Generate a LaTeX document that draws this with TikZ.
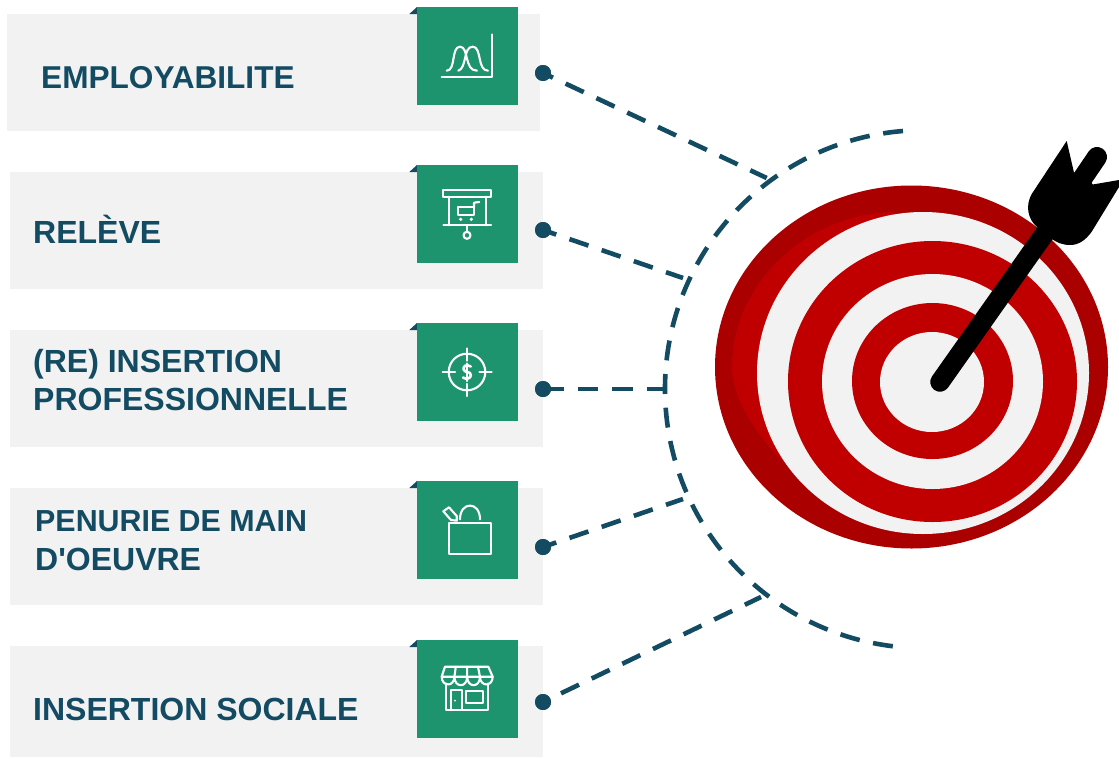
\documentclass[tikz,border=0pt]{standalone}
\usepackage{fontspec}
\setmainfont{Liberation Sans}
\definecolor{navy}{RGB}{19,75,99}
\definecolor{panel}{RGB}{242,242,242}
\definecolor{teal}{RGB}{29,148,110}
\definecolor{darkred}{RGB}{170,0,0}
\definecolor{brightred}{RGB}{192,0,0}
\tikzset{
  panelbox/.style={fill=panel,draw=none},
  iconbox/.style={fill=teal,draw=none},
  cornertri/.style={fill=navy,draw=none},
  label/.style={anchor=base west,inner sep=0pt,text=navy,font=\bfseries\fontsize{32}{38.5}\selectfont,align=left},
  dotnode/.style={circle,fill=navy,minimum size=16pt,inner sep=0pt,draw=none},
  dashline/.style={draw=navy,line width=4.6pt},
  icon/.style={draw=white,line width=2.1pt,line join=round,line cap=round},
}
\begin{document}
\begin{tikzpicture}[x=1pt,y=1pt,yscale=-1]
\useasboundingbox (0,0) rectangle (1119,758);
\fill[white] (0,0) rectangle (1119,758);
% panels
\fill[panelbox] (7,14) rectangle (540,131);
\fill[panelbox] (10,172) rectangle (543,289);
\fill[panelbox] (10,330) rectangle (543,447);
\fill[panelbox] (10,488) rectangle (543,605);
\fill[panelbox] (10,646) rectangle (543,757);
% corner triangles and icon squares
\foreach \yy in {7,165,323,481,640}{
  \fill[cornertri] (409.3,\yy+7) -- (417,\yy) -- (417,\yy+7) -- cycle;
  \fill[iconbox] (417,\yy) rectangle (518,\yy+98);
}
% labels
\node[label,font=\bfseries\fontsize{31.6}{38.5}\selectfont] (t1) at (41,88.5) {EMPLOYABILITE};
\node[label] (t2) at (33,243.5) {RELÈVE};
\node[label,anchor=west] (t3) at (33,380) {(RE) INSERTION\\PROFESSIONNELLE};
\node[label,anchor=west] (t4) at (35,540.5) {{\fontsize{30.4}{38.5}\selectfont PENURIE DE MAIN}\\D\textquotesingle OEUVRE};
\node[label] (t5) at (33,720.5) {INSERTION SOCIALE};
% icon 1
\draw[icon] (491.7,34.3) -- (491.7,76.7) -- (441.7,76.7);
\draw[icon] (446.7,70.7) .. controls (456,70.7) and (451,46.7) .. (460,46.7) .. controls (469,46.7) and (464,70.7) .. (477,70.7);
\draw[icon] (458.3,70.7) .. controls (467,68) and (463,46.7) .. (472.7,46.7) .. controls (482,46.7) and (477,70.7) .. (488,70.7);
% icon 2
\draw[icon] (443.3,190) rectangle (491,196.7);
\draw[icon] (448.7,196.7) -- (448.7,225.3) (486,196.7) -- (486,225.3);
\draw[icon] (443.3,225.3) -- (491,225.3) (467,225.3) -- (467,231.7);
\draw[icon] (467,235.3) circle[radius=3.5];
\draw[icon] (458,206.7) rectangle (474,215);
\draw[icon] (474,206.7) -- (474,202.7) -- (479.3,202);
\fill[white] (460.7,219.3) circle[radius=1.8] (471.3,219.3) circle[radius=1.8];
% icon 3
\draw[icon] (467,372) circle[radius=18.3];
\draw[icon] (442.7,372) -- (455,372) (479.3,372) -- (491.7,372);
\draw[icon] (467,348.3) -- (467,360.7) (467,384) -- (467,396);
\draw[icon,line width=2.6pt] (470.8,366.5) .. controls (466,363.5) and (463,366.5) .. (463.6,369.5) .. controls (464.5,373) and (470.8,371) .. (470.8,375) .. controls (470.8,379) and (466,379.5) .. (463,377.5);
\draw[icon] (467,363.5) -- (467,381);
% icon 4
\draw[icon] (449,522.7) rectangle (491,554.3);
\draw[icon] (460,519.3) .. controls (460,501) and (480,501) .. (480,519.3);
\draw[icon] (443.3,511.3) -- (449,507.3) -- (456.7,516) -- (456.7,520.7) -- (451,520) -- cycle;
% icon 5
\draw[icon] (445,666.7) -- (488.3,666.7) -- (492.7,676.7) -- (441.7,676.7) -- cycle;
\draw[icon] (441.7,676.7) .. controls (441.7,687) and (454.4,687) .. (454.4,676.7)
  .. controls (454.4,688) and (467.2,688) .. (467.2,676.7)
  .. controls (467.2,688) and (480,688) .. (480,676.7)
  .. controls (480,687) and (492.7,687) .. (492.7,676.7);
\draw[icon] (455.8,666.7) -- (454.4,676.7) (467,666.7) -- (467.2,676.7) (478,666.7) -- (480,676.7);
\draw[icon] (446,683.3) -- (446,710) -- (488.3,710) -- (488.3,683.3);
\draw[icon] (450.7,710) -- (450.7,690) -- (461.7,690) -- (461.7,710);
\fill[white] (455,700.7) circle[radius=1];
\draw[icon] (465.7,690.7) rectangle (483.3,703.3);
% target
\fill[darkred] (911.5,367) ellipse[x radius=196.5,y radius=181.5];
\fill[brightred] (893,212) .. controls (805,214) and (732,285) .. (732,367) .. controls (732,395) and (752,430) .. (783,462) -- (900,400) -- cycle;
\fill[panel] (923,373) ellipse[x radius=166,y radius=161];
\fill[brightred] (932.5,381.5) ellipse[x radius=144.5,y radius=140.5];
\fill[panel] (932.5,381.5) ellipse[x radius=110.5,y radius=107.5];
\fill[brightred] (932.5,381) ellipse[x radius=80.5,y radius=78];
\fill[panel] (932,382) ellipse[x radius=52,y radius=50];
% dart
\draw[black,line width=19.5pt,line cap=round] (940,382) -- (1050,226);
\draw[black,line width=20pt,line cap=round] (1078,185) -- (1097,157);
\fill[black] (1066.7,141) -- (1074,172.7) -- (1085,172) -- (1092.7,184.5) -- (1119,180) -- (1119,187)
  -- (1091.7,231.7) .. controls (1085,241) and (1078,245) .. (1070,245)
  .. controls (1062,245) and (1056,242) .. (1052,239) -- (1036.7,226.7)
  .. controls (1028,219) and (1025,206) .. (1031.7,194) -- cycle;
% connectors
\coordinate (arcTop) at (903,131);
\coordinate (j1) at (766.7,178);
\coordinate (j2) at (683,278);
\coordinate (j3) at (667,389);
\coordinate (j4) at (683,499);
\coordinate (j5) at (761,597);
\node[dotnode] (d1) at (543,73) {};
\node[dotnode] (d2) at (543,230) {};
\node[dotnode] (d3) at (543,389) {};
\node[dotnode] (d4) at (543,547) {};
\node[dotnode] (d5) at (543,702) {};
\draw[dashline,dash pattern=on 20pt off 13.7pt] (arcTop) arc[start angle=265.35,end angle=96.85,radius=259];
\draw[dashline,dash pattern=on 20pt off 14pt,dash phase=9pt] (d1.center) -- (j1);
\draw[dashline,dash pattern=on 20pt off 14pt,dash phase=6pt] (d2.center) -- (j2);
\draw[dashline,dash pattern=on 20.5pt off 14pt] (d3.center) -- (j3);
\draw[dashline,dash pattern=on 20pt off 14pt,dash phase=6pt] (d4.center) -- (j4);
\draw[dashline,dash pattern=on 20pt off 14pt,dash phase=14pt] (d5.center) -- (j5);
\node[dotnode] at (d1) {};
\node[dotnode] at (d2) {};
\node[dotnode] at (d3) {};
\node[dotnode] at (d4) {};
\node[dotnode] at (d5) {};
\end{tikzpicture}
\end{document}
